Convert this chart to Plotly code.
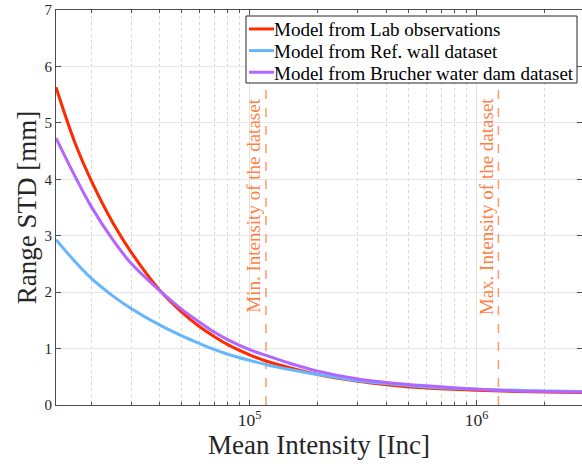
import math

import plotly.graph_objects as go

# mean intensity sample points [Inc]
intensity = [1.4e4, 1.7e4, 2e4, 2.5e4, 3e4, 4e4, 5e4, 6e4, 7e4, 8e4, 1e5, 1.2e5, 1.5e5,
             2e5, 3e5, 4e5, 6e5, 1e6, 1.5e6, 2e6, 3e6]

# range STD [mm]
std_lab = [5.63, 4.64, 3.98, 3.22, 2.71, 2.04, 1.65, 1.39, 1.21, 1.07, 0.89, 0.77, 0.66,
           0.54, 0.42, 0.36, 0.30, 0.26, 0.24, 0.23, 0.22]
std_ref_wall = [2.93, 2.54, 2.25, 1.93, 1.71, 1.42, 1.23, 1.09, 0.98, 0.90, 0.79, 0.71, 0.63,
                0.54, 0.43, 0.38, 0.32, 0.28, 0.26, 0.25, 0.24]
std_brucher = [4.73, 4.05, 3.52, 2.92, 2.51, 2.03, 1.70, 1.47, 1.29, 1.16, 0.98, 0.87, 0.74,
               0.60, 0.46, 0.40, 0.34, 0.28, 0.25, 0.24, 0.23]

labels = ["Model from Lab observations", "Model from Ref. wall dataset",
          "Model from Brucher water dam dataset"]
colors = ["#ff2a00", "#66b5ff", "#b266ff"]

min_intensity = 1.18e5
max_intensity = 1.25e6

FONT = "Liberation Serif, Times New Roman, serif"
AXIS_COLOR = "#4d4d4d"
DASH_COLOR = "#ff9a66"
TEXT_ORANGE = "#ff7f45"

fig = go.Figure()

for xv in (min_intensity, max_intensity):
    fig.add_trace(
        go.Scatter(
            x=[xv, xv],
            y=[0, 7],
            mode="lines",
            showlegend=False,
            hoverinfo="skip",
            line={"color": DASH_COLOR, "width": 1.5, "dash": "dash"},
        )
    )

for values, label, color in zip([std_lab, std_ref_wall, std_brucher], labels, colors):
    fig.add_trace(
        go.Scatter(
            x=intensity,
            y=values,
            name=label,
            mode="lines",
            showlegend=False,
            line={"color": color, "width": 3, "shape": "spline"},
        )
    )

for xv, text in [
    (min_intensity, "Min. Intensity of the dataset"),
    (max_intensity, "Max. Intensity of the dataset"),
]:
    fig.add_annotation(
        x=math.log10(xv),
        y=3.53,
        xref="x",
        yref="y",
        text=text,
        textangle=-90,
        showarrow=False,
        xshift=-12,
        font={"family": FONT, "size": 19, "color": TEXT_ORANGE},
    )

# matlab style legend box, drawn by hand so it does not push the margins
fig.add_shape(
    type="rect", xref="paper", yref="paper", x0=0.3612, x1=0.9905, y0=0.8152, y1=0.9848,
    fillcolor="white", line={"color": "#262626", "width": 1}, layer="above",
)
for i, (label, color) in enumerate(zip(labels, colors)):
    row_y = 0.9520 - i * 0.0548
    fig.add_shape(
        type="line", xref="paper", yref="paper", x0=0.3669, x1=0.4144, y0=row_y, y1=row_y,
        line={"color": color, "width": 3}, layer="above",
    )
    fig.add_annotation(
        x=0.4163, y=row_y, xref="paper", yref="paper", xanchor="left", yanchor="middle",
        text=label, showarrow=False, yshift=-1, xshift=-3,
        font={"family": FONT, "size": 19, "color": "#000000"},
    )

fig.update_xaxes(
    type="log",
    range=[math.log10(1.4e4), math.log10(2.92e6)],
    dtick=1,
    exponentformat="power",
    showline=True,
    linecolor=AXIS_COLOR,
    linewidth=1,
    mirror="allticks",
    ticks="inside",
    ticklen=5,
    tickcolor=AXIS_COLOR,
    showgrid=True,
    gridcolor="#e2e2e2",
    zeroline=False,
    tickfont={"family": FONT, "size": 14, "color": "#262626"},
    minor={
        "dtick": "D1",
        "ticks": "inside",
        "ticklen": 3,
        "tickcolor": AXIS_COLOR,
        "showgrid": True,
        "gridcolor": "#d6d6d6",
        "griddash": "dot",
    },
    title={"text": "Mean Intensity [Inc]", "font": {"family": FONT, "size": 27, "color": "#262626"}, "standoff": 1},
)
fig.update_yaxes(
    range=[0, 7],
    dtick=1,
    showline=True,
    linecolor=AXIS_COLOR,
    linewidth=1,
    mirror="allticks",
    ticks="inside",
    ticklen=5,
    tickcolor=AXIS_COLOR,
    showgrid=True,
    gridcolor="#e6e6e6",
    zeroline=False,
    tickfont={"family": FONT, "size": 15, "color": "#262626"},
    title={"text": "Range STD [mm]", "font": {"family": FONT, "size": 27, "color": "#262626"}, "standoff": 0},
)

fig.update_layout(
    width=582,
    height=464,
    margin={"l": 56, "r": 0, "t": 10, "b": 59},
    paper_bgcolor="white",
    plot_bgcolor="white",
    font={"family": FONT},
    showlegend=False,
)

fig.write_html(
    "out.html",
    config={"displayModeBar": False},
    post_script="document.body.style.margin='0';document.body.style.overflow='hidden';",
)
